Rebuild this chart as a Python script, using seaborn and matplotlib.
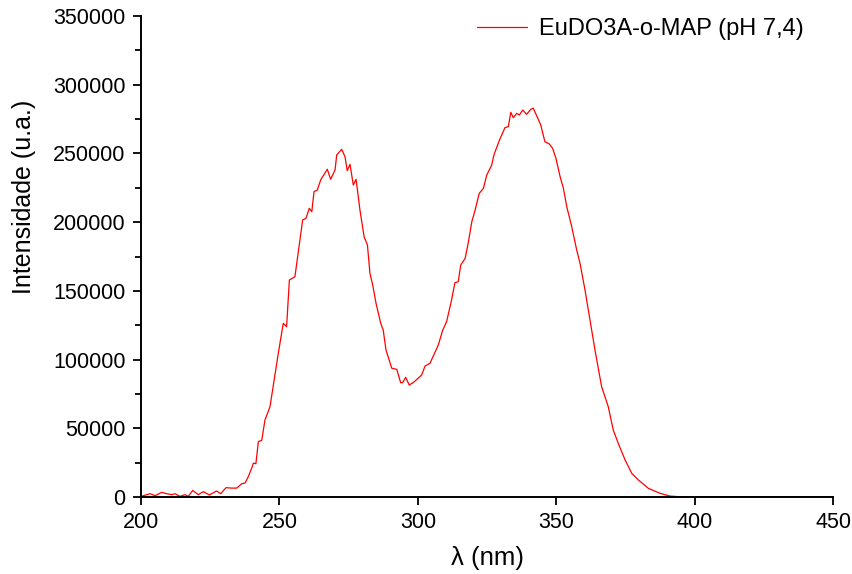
import pandas as pd
import numpy as np
import matplotlib
matplotlib.use('Agg')
import matplotlib.pyplot as plt
import seaborn as sns
from matplotlib.ticker import MultipleLocator

# emission spectrum
wavelength = [200.0, 203.3, 205.1, 207.5, 209.3, 211.1, 212.3, 214.1, 215.9, 217.1,
              218.7, 220.7, 222.5, 224.7, 227.3, 228.8, 230.7, 232.8, 234.6, 236.4,
              237.6, 238.8, 240.0, 240.6, 241.5, 242.4, 243.6, 244.8, 246.6, 249.6,
              251.4, 252.6, 253.6, 255.6, 257.4, 258.4, 259.6, 260.8, 261.7, 262.5,
              263.7, 264.9, 267.3, 268.5, 270.1, 270.7, 272.5, 273.7, 274.5, 275.5,
              276.7, 277.7, 279.1, 280.6, 281.8, 282.7, 283.7, 284.9, 286.6, 287.5,
              288.5, 290.6, 292.4, 293.8, 294.5, 295.6, 296.9, 298.5, 301.4, 302.6,
              304.4, 307.4, 309.0, 310.4, 312.2, 313.4, 314.6, 315.5, 317.1, 318.3,
              319.5, 320.7, 322.2, 323.7, 324.9, 326.7, 327.5, 329.5, 331.5, 332.7,
              333.6, 334.5, 335.7, 336.7, 337.9, 339.3, 340.9, 341.7, 343.2, 344.4,
              345.9, 347.5, 348.7, 349.9, 351.4, 352.6, 353.8, 355.6, 357.4, 358.6,
              360.4, 362.2, 364.0, 366.4, 368.8, 370.6, 372.4, 374.9, 377.3, 379.7,
              383.3, 387.5, 391.1, 395.9, 400.0, 410.0, 420.0, 430.0, 440.0, 450.0]
intensity = [500, 2400, 1000, 3400, 2400, 1700, 2400, 500, 1700, 500,
             4800, 1700, 3900, 1500, 4400, 2400, 6800, 6500, 6500, 9700,
             10200, 15000, 21100, 24700, 24200, 40400, 41200, 56200, 65700, 104600,
             126400, 123900, 157900, 160300, 187000, 201600, 202800, 210100, 207600, 222200,
             223400, 230700, 238500, 231200, 238000, 248900, 253000, 247600, 237500, 242100,
             227000, 231200, 208800, 189400, 183400, 162800, 154300, 141000, 126400, 121500,
             107000, 93700, 92900, 83200, 83200, 87100, 81500, 83500, 88800, 95300,
             97300, 110600, 121500, 127600, 143400, 155900, 156700, 168800, 173700, 185800,
             200300, 208800, 221000, 224600, 234300, 241600, 248900, 259800, 268800, 269500,
             279900, 276000, 279200, 278000, 281600, 278500, 282300, 282900, 276300, 270700,
             258600, 256900, 253700, 246500, 233100, 224600, 211300, 196700, 179700, 170100,
             150600, 128800, 107000, 80300, 65700, 48800, 39100, 26900, 17200, 12400,
             6300, 2700, 700, 0, 0, 0, 0, 0, 0, 0]

series_name = 'EuDO3A-o-MAP (pH 7,4)'

df = pd.DataFrame({'wl': wavelength, 'I': intensity, 'amostra': series_name})

sns.set_style('ticks')
plt.rcParams['font.family'] = ['Liberation Sans', 'DejaVu Sans']
plt.rcParams['text.color'] = 'black'
plt.rcParams['axes.labelcolor'] = 'black'

fig = plt.figure(figsize=(8.53, 5.74), dpi=100)
ax = fig.add_axes([0.1653, 0.1341, 0.8113, 0.838])

sns.lineplot(data=df, x='wl', y='I', hue='amostra', palette=['#ff0000'],
             linewidth=0.9, ax=ax, sort=False)

ax.set_xlim(200, 450)
ax.set_ylim(0, 350000)
ax.xaxis.set_major_locator(MultipleLocator(50))
ax.yaxis.set_major_locator(MultipleLocator(50000))
ax.yaxis.set_minor_locator(MultipleLocator(25000))
ax.tick_params(axis='both', which='major', direction='out', length=6, width=1.3,
               labelsize=15.5, color='black', labelcolor='black', pad=5)
ax.tick_params(axis='y', which='minor', direction='out', length=4, width=1.3,
               color='black')
for s in ['left', 'bottom']:
    ax.spines[s].set_linewidth(1.4)
    ax.spines[s].set_color('black')
sns.despine(ax=ax)

ax.set_xlabel('λ (nm)', fontsize=18.5, labelpad=9, color='black')
ax.set_ylabel('Intensidade (u.a.)', fontsize=18, color='black')
ax.yaxis.set_label_coords(-0.152, 0.625)

leg = ax.legend(loc='upper right', frameon=False, fontsize=17, handlelength=2.15,
                handletextpad=0.5, borderaxespad=0.1, bbox_to_anchor=(0.975, 1.02))
for t in leg.get_texts():
    t.set_color('black')

fig.savefig('out.png', dpi=100)
